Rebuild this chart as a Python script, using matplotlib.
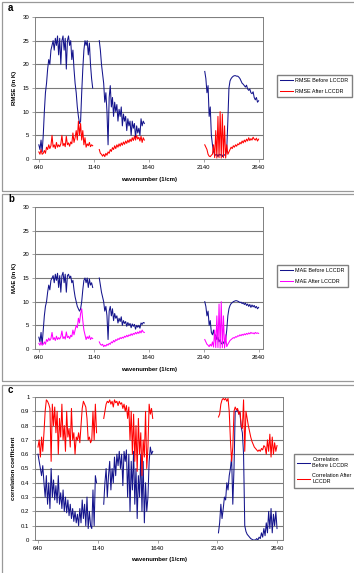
import numpy as np
import matplotlib
matplotlib.use('Agg')
import matplotlib.pyplot as plt
from matplotlib.patches import Rectangle

plt.rcParams['font.family'] = ['Liberation Sans', 'DejaVu Sans']

# wavenumber grid of the three spectral segments (1/cm)
seg1 = list(range(640, 1131, 10))
seg2 = list(range(1190, 1601, 10))
seg3 = list(range(2150, 2641, 10))
xticks = [640, 1140, 1640, 2140, 2640]

rmse_before = [
    3, 2, 4, 1.5, 5, 10, 14, 16, 19, 21,
    20, 23, 24, 25, 23, 25.5, 24, 26, 22, 25.5,
    20, 25, 26, 23, 25.5, 19, 25, 26, 24, 25,
    21, 23, 19, 16, 14, 11, 9, 7.5, 8, 14,
    19, 23, 25, 24, 25, 22, 24.5, 20, 17, 15,
    25, 23, 20, 18, 16, 12, 14, 10, 3, 13,
    15.5, 11, 13, 9, 12, 10, 11.5, 8, 10.5, 9,
    11, 7, 9.5, 8, 9, 6, 8.5, 7, 8, 5,
    8, 6.5, 7.5, 4.5, 7, 5.5, 6.5, 5, 8.5, 7,
    8, 7.5,
    18.5, 17, 14, 15.5, 9, 11, 5, 3, 1.5, 1,
    0.8, 1, 0.5, 1, 0.8, 1, 0.5, 1, 0.8, 1,
    2, 8, 15, 16.5, 17, 17.3, 17.5, 17.6, 17.6, 17.5,
    17.5, 17.3, 17, 16.5, 16, 15.8, 15.5, 15.2, 15.6, 14.8,
    14.5, 14.8, 14, 13.8, 14.2, 13, 12.5, 13, 12, 12.3]

rmse_after = [
    1.5, 1, 2, 1, 1.2, 1.8, 1.2, 2.5, 2, 3,
    2.2, 2.8, 5, 2.5, 3, 2.2, 3.5, 2.5, 3, 2.6,
    3.2, 5, 2.8, 3.3, 2.6, 4.8, 3, 3.4, 2.7, 3.6,
    3.2, 5.5, 3.5, 4.5, 6, 4, 8, 5, 7.5, 4,
    6, 3, 4.5, 2.5, 3.2, 2.8, 3.5, 2.6, 3, 2.8,
    2, 1.2, 1, 0.6, 1, 0.5, 1.2, 0.8, 1.5, 1.2,
    2, 1.6, 2.4, 2, 2.8, 2.2, 3, 2.5, 3.2, 2.7,
    3.4, 2.9, 3.6, 3.1, 3.8, 3.3, 4, 3.5, 4.2, 3.7,
    4.5, 3.9, 4.8, 4, 5, 4.2, 4.6, 3.8, 4.8, 3.5,
    4.5, 4,
    3, 2.5, 2, 1, 0.6, 0.5, 0.8, 1, 3, 0.3,
    6, 0.2, 9, 0.3, 10, 0.2, 9.5, 0.3, 7, 0.2,
    3, 1, 1.5, 2, 2.5, 2.2, 2.8, 2.5, 3, 2.7,
    3.2, 3, 3.5, 3.2, 3.8, 3.4, 4, 3.6, 4.2, 3.8,
    4.5, 3.9, 4.3, 4, 4.6, 4.2, 4, 4.4, 3.8, 4.2]

mae_before = [
    2.5, 1.5, 3.5, 1, 4, 7, 9, 10, 12, 13.5,
    12.5, 14.5, 15, 15.5, 14, 15.8, 14.5, 16, 13, 15.5,
    12, 15.5, 16.2, 14, 15.8, 12, 15.5, 15.8, 15, 15.4,
    14, 14.5, 12.5, 11, 10, 9, 8.5, 8, 8.5, 10,
    12.5, 14.5, 15, 14, 15, 13, 14.8, 13.5, 14, 13,
    15, 13.5, 12, 11, 10, 8, 9, 7, 2, 8,
    9, 7, 8.5, 6, 7.5, 6.5, 7, 5.5, 6.5, 5.8,
    6.8, 5, 6, 5.4, 5.8, 4.8, 5.6, 5, 5.4, 4.5,
    5.3, 4.8, 5.2, 4.2, 5, 4.6, 5, 4.4, 5.5, 5.2,
    5.6, 5.5,
    10, 9, 7, 8, 5, 6, 3.5, 3, 4, 2.5,
    3, 2, 2.5, 1.5, 2, 1.2, 1, 1.5, 1, 2,
    4, 7, 8.5, 9.2, 9.6, 9.8, 10, 10.1, 10.2, 10.2,
    10.1, 10, 9.8, 9.9, 9.6, 9.8, 9.4, 9.7, 9.2, 9.5,
    9, 9.4, 8.8, 9.3, 8.9, 9.2, 8.7, 9, 8.5, 8.8]

mae_after = [
    1.2, 0.8, 1.5, 0.8, 1, 1.5, 1, 2, 1.6, 2.3,
    1.8, 2.2, 3.5, 2, 2.4, 1.8, 2.7, 2, 2.4, 2.1,
    2.6, 3.8, 2.2, 2.6, 2.1, 3.6, 2.4, 2.7, 2.2, 2.9,
    2.6, 4, 3, 4, 5, 4.5, 6.5, 5.5, 7.5, 8.5,
    6, 4, 3, 2, 2.6, 2.2, 2.8, 2, 2.4, 2.2,
    1.5, 1, 0.8, 1, 0.5, 0.8, 0.6, 1, 0.8, 1.2,
    1, 1.5, 1.3, 1.8, 1.5, 2, 1.8, 2.2, 2, 2.4,
    2.2, 2.5, 2.3, 2.7, 2.5, 2.9, 2.6, 3, 2.8, 3.2,
    2.9, 3.3, 3.1, 3.5, 3.2, 3.6, 3.3, 3.8, 3.4, 4,
    3.6, 3.5,
    2, 1.5, 1, 0.8, 0.5, 1, 0.6, 1.5, 0.4, 4,
    0.3, 7, 0.3, 9.5, 0.2, 10, 0.3, 7, 0.2, 3,
    0.5, 1, 1.4, 1.8, 2, 2.2, 2.4, 2.3, 2.6, 2.5,
    2.8, 2.7, 3, 2.8, 3.1, 2.9, 3.2, 3, 3.3, 3.1,
    3.4, 3.2, 3.5, 3.3, 3.4, 3.2, 3.5, 3.3, 3.4, 3.3]

corr_before = [
    0.6, 0.55, 0.5, 0.45, 0.52, 0.4, 0.3, 0.45, 0.25, 0.4,
    0.22, 0.5, 0.3, 0.42, 0.28, 0.38, 0.26, 0.45, 0.25, 0.33,
    0.22, 0.35, 0.2, 0.3, 0.19, 0.28, 0.17, 0.25, 0.15, 0.22,
    0.13, 0.2, 0.12, 0.18, 0.1, 0.22, 0.12, 0.28, 0.15, 0.25,
    0.1, 0.3, 0.08, 0.2, 0.1, 0.08, 0.35, 0.1, 0.45, 0.4,
    0.25, 0.4, 0.5, 0.3, 0.45, 0.55, 0.35, 0.5, 0.4, 0.58,
    0.45, 0.6, 0.52, 0.62, 0.5, 0.6, 0.38, 0.62, 0.55, 0.63,
    0.3, 0.6, 0.2, 0.55, 0.35, 0.62, 0.25, 0.5, 0.15, 0.45,
    0.3, 0.6, 0.2, 0.55, 0.12, 0.4, 0.2, 0.3, 0.55, 0.65,
    0.6, 0.62,
    0.05, 0.12, 0.25, 0.15, 0.22, 0.3, 0.28, 0.4, 0.35, 0.45,
    0.5, 0.58, 0.25, 0.5, 0.9, 0.9, 0.91, 0.88, 0.89, 0.79,
    0.75, 0.6, 0.1, 0.06, 0.04, 0.03, 0.02, 0.01, 0.005, 0,
    0, 0, 0.01, 0, 0.02, 0.01, 0.05, 0.02, 0.08, 0.03,
    0.12, 0.05, 0.2, 0.08, 0.22, 0.05, 0.18, 0.1, 0.2, 0.08]

corr_after = [
    0.65, 0.7, 0.58, 0.72, 0.62, 0.75, 0.9, 0.98, 0.97, 0.95,
    0.92, 0.55, 0.95, 0.8, 0.93, 0.75, 0.9, 0.6, 0.85, 0.72,
    0.95, 0.7, 0.8, 0.62, 0.9, 0.72, 0.78, 0.65, 0.92, 0.7,
    0.75, 0.6, 0.72, 0.7, 0.75, 0.68, 0.8, 0.92, 0.97, 0.95,
    0.93, 0.85, 0.7, 0.72, 0.68, 0.7, 0.9, 0.7, 0.95, 0.75,
    0.85, 0.9, 0.95, 0.97, 0.96, 0.98, 0.95, 0.97, 0.93, 0.98,
    0.96, 0.97, 0.94, 0.97, 0.95, 0.96, 0.92, 0.95, 0.9, 0.94,
    0.85, 0.93, 0.7, 0.9, 0.6, 0.88, 0.55, 0.8, 0.48, 0.85,
    0.6, 0.75, 0.45, 0.7, 0.58, 0.9, 0.5, 0.65, 0.95, 0.88,
    0.92, 0.85,
    0.86, 0.88, 0.95, 0.98, 0.99, 0.98, 0.99, 0.97, 0.99, 0.9,
    0.7, 0.55, 0.65, 0.9, 0.93, 0.91, 0.92, 0.88, 0.9, 0.8,
    0.78, 0.98, 0.62, 0.9, 0.85, 0.8, 0.76, 0.72, 0.69, 0.67,
    0.65, 0.64, 0.63, 0.62, 0.63, 0.62, 0.64, 0.63, 0.66, 0.65,
    0.6, 0.7, 0.62, 0.74, 0.58, 0.72, 0.6, 0.68, 0.62, 0.66]

BLUE = '#14148c'
W, H = 354, 573
fig = plt.figure(figsize=(W / 100, H / 100), dpi=100)


def px_box(x0, y0, x1, y1):
    # pixel box (top-left origin) -> figure fraction rect
    return [x0 / W, 1 - y1 / H, (x1 - x0) / W, (y1 - y0) / H]


def frame(y0, y1):
    fig.patches.append(Rectangle((2 / W, 1 - y1 / H), 1.2, (y1 - y0) / H,
                                 transform=fig.transFigure, fill=False,
                                 edgecolor='#999999', lw=0.9))


def plot_segments(ax, values, color):
    n1, n2 = len(seg1), len(seg2)
    parts = [(seg1, values[:n1]), (seg2, values[n1:n1 + n2]), (seg3, values[n1 + n2:])]
    line = None
    for xs, ys in parts:
        line, = ax.plot(xs, ys, color=color, lw=0.75)
    return line


def style(ax, ylim, yticks, ylabels, ylabel, xlim):
    ax.set_xlim(*xlim)
    ax.set_ylim(*ylim)
    ax.set_yticks(yticks)
    ax.set_yticklabels(ylabels)
    ax.set_xticks(xticks)
    ax.set_xticklabels([str(t) for t in xticks])
    ax.tick_params(labelsize=4.3, length=2, width=0.5, color='#808080', pad=2)
    ax.yaxis.grid(True, color='#7a7a7a', lw=0.8)
    ax.set_axisbelow(True)
    for s in ax.spines.values():
        s.set_color('#808080')
        s.set_linewidth(0.7)
    ax.set_ylabel(ylabel, fontsize=4.3, fontweight='bold', labelpad=4)
    ax.set_xlabel('wavenumber (1/cm)', fontsize=4.3, fontweight='bold', labelpad=5)


def legend(ax, handles, labels, x0, y0):
    ax.legend(handles, labels, loc='upper left', bbox_to_anchor=(x0 / W, 1 - y0 / H),
              bbox_transform=fig.transFigure, fontsize=3.9, frameon=True, fancybox=False,
              edgecolor='#808080', framealpha=1, handlelength=2.4, handletextpad=0.4,
              borderpad=0.6, labelspacing=1.0, borderaxespad=0)


frame(2, 191)
frame(194, 381)
frame(385, 575)

# panel a: RMSE
ax1 = fig.add_axes(px_box(35, 17, 263, 159))
l1 = plot_segments(ax1, rmse_before, BLUE)
l2 = plot_segments(ax1, rmse_after, '#ff0000')
style(ax1, (0, 30), range(0, 31, 5), [str(v) for v in range(0, 31, 5)], 'RMSE (in K)', (605, 2680))
legend(ax1, [l1, l2], ['RMSE Before LCCDR', 'RMSE After LCCDR'], 277, 75)
fig.text(8 / W, 1 - 11 / H, 'a', fontsize=7, fontweight='bold')

# panel b: MAE
ax2 = fig.add_axes(px_box(35, 207, 263, 349))
l1 = plot_segments(ax2, mae_before, BLUE)
l2 = plot_segments(ax2, mae_after, '#ff00ff')
style(ax2, (0, 30), range(0, 31, 5), [str(v) for v in range(0, 31, 5)], 'MAE (in K)', (605, 2680))
legend(ax2, [l1, l2], ['MAE Before LCCDR', 'MAE After LCCDR'], 277, 265)
fig.text(8 / W, 1 - 202 / H, 'b', fontsize=7, fontweight='bold')

# panel c: correlation
ax3 = fig.add_axes(px_box(35, 397, 283, 540))
l1 = plot_segments(ax3, corr_before, BLUE)
l2 = plot_segments(ax3, corr_after, '#ff0000')
cticks = [i / 10 for i in range(11)]
style(ax3, (0, 1), cticks, ['0'] + ['%.1f' % v for v in cticks[1:-1]] + ['1'],
      'correlation coefficient', (615, 2690))
legend(ax3, [l1, l2], ['Correlation\nBefore LCCDR', 'Correlation After\nLCCDR'], 294, 454)
fig.text(8 / W, 1 - 393 / H, 'c', fontsize=7, fontweight='bold')

fig.savefig('out.png', dpi=100)
